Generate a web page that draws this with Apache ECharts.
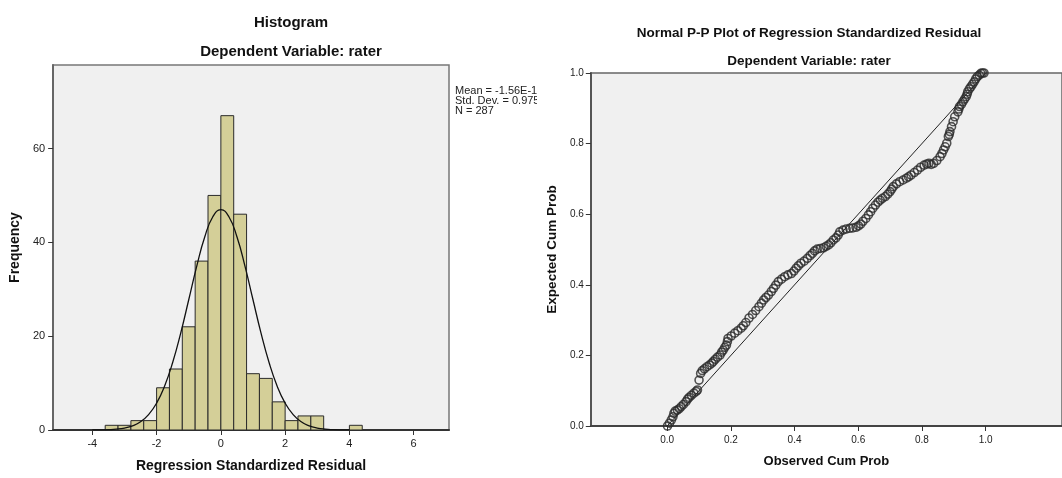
<!DOCTYPE html>
<html>
<head>
<meta charset="utf-8">
<script src="https://cdn.jsdelivr.net/npm/echarts@6/dist/echarts.min.js"></script>
<style>
  html, body { margin: 0; padding: 0; background: #fff; }
  #histChart { position: absolute; left: 0; top: 0; width: 537px; height: 478px; }
  #ppChart { position: absolute; left: 537px; top: 0; width: 525px; height: 478px; }
</style>
</head>
<body>
<div id="histChart"></div>
<div id="ppChart"></div>
<script>
// histogram bins (start of each 0.4 wide bin) and counts
const binStarts = [-3.6, -3.2, -2.8, -2.4, -2.0, -1.6, -1.2, -0.8, -0.4, 0.0, 0.4, 0.8, 1.2, 1.6, 2.0, 2.4, 2.8, 4.0];
const binCounts = [1, 1, 2, 2, 9, 13, 22, 36, 50, 67, 46, 12, 11, 6, 2, 3, 3, 1];
const binWidth = 0.4;
const histXTicks = [-4, -2, 0, 2, 4, 6];
const histYTicks = [0, 20, 40, 60];

// normal curve
const curveX = [-4, -3.75, -3.5, -3.25, -3, -2.75, -2.5, -2.25, -2, -1.75, -1.5, -1.25, -1, -0.75, -0.5, -0.25, 0,
  0.25, 0.5, 0.75, 1, 1.25, 1.5, 1.75, 2, 2.25, 2.5, 2.75, 3, 3.25, 3.5, 3.75, 4];
const curveY = [0.01, 0.03, 0.08, 0.18, 0.41, 0.88, 1.76, 3.28, 5.73, 9.38, 14.39, 20.65, 27.76, 34.94, 41.18, 45.45, 46.97,
  45.45, 41.18, 34.94, 27.76, 20.65, 14.39, 9.38, 5.73, 3.28, 1.76, 0.88, 0.41, 0.18, 0.08, 0.03, 0.01];

const statLines = ['Mean = -1.56E-16', 'Std. Dev. = 0.975', 'N = 287'];

// P-P plot points (observed cum prob, expected cum prob)
const ppObserved = [
  0.001, 0.007, 0.013, 0.018, 0.021, 0.025, 0.032, 0.038, 0.044, 0.051, 0.059, 0.064, 0.069, 0.076, 0.084, 0.091,
  0.095, 0.100, 0.105, 0.110, 0.117, 0.125, 0.133, 0.140, 0.145, 0.151, 0.158, 0.166, 0.171, 0.176, 0.181, 0.186,
  0.189, 0.191, 0.201, 0.212, 0.222, 0.232, 0.239, 0.247,
  0.257, 0.268, 0.278, 0.288, 0.296, 0.303, 0.310, 0.318, 0.327, 0.334, 0.341, 0.349, 0.359, 0.369, 0.379, 0.390,
  0.398, 0.405, 0.412, 0.420, 0.430, 0.440, 0.449, 0.456, 0.463, 0.471, 0.481, 0.491, 0.499, 0.507, 0.514, 0.522,
  0.530, 0.537,
  0.542, 0.552, 0.562, 0.573, 0.583, 0.593, 0.601, 0.608, 0.615, 0.624, 0.632, 0.639, 0.646, 0.654, 0.662, 0.669,
  0.676, 0.685, 0.693, 0.700, 0.705, 0.710, 0.720, 0.730, 0.741, 0.751, 0.758, 0.766, 0.776, 0.786, 0.796, 0.807,
  0.815, 0.822,
  0.829, 0.837, 0.847, 0.857, 0.863, 0.868, 0.873, 0.878, 0.883, 0.886, 0.888, 0.893, 0.898, 0.903, 0.913, 0.916,
  0.918, 0.924, 0.929, 0.934, 0.939, 0.942, 0.944, 0.949, 0.954, 0.959, 0.964, 0.969, 0.974, 0.980, 0.985, 0.990,
  0.995];
const ppExpected = [
  0.000, 0.008, 0.017, 0.026, 0.036, 0.042, 0.045, 0.049, 0.055, 0.061, 0.069, 0.076, 0.081, 0.087, 0.093, 0.098,
  0.102, 0.130, 0.149, 0.157, 0.162, 0.168, 0.173, 0.178, 0.183, 0.189, 0.195, 0.201, 0.209, 0.215, 0.223, 0.229,
  0.239, 0.248, 0.255, 0.263, 0.270, 0.277, 0.284, 0.293,
  0.306, 0.316, 0.327, 0.338, 0.348, 0.357, 0.364, 0.371, 0.381, 0.390, 0.399, 0.409, 0.416, 0.423, 0.428, 0.432,
  0.439, 0.447, 0.454, 0.461, 0.467, 0.475, 0.483, 0.489, 0.496, 0.501, 0.503, 0.505, 0.509, 0.513, 0.519, 0.527,
  0.533, 0.541,
  0.550, 0.555, 0.558, 0.560, 0.561, 0.563, 0.567, 0.572, 0.580, 0.588, 0.598, 0.607, 0.617, 0.626, 0.634, 0.640,
  0.645, 0.650, 0.657, 0.664, 0.671, 0.678, 0.686, 0.692, 0.697, 0.702, 0.706, 0.711, 0.718, 0.725, 0.733, 0.739,
  0.742, 0.744,
  0.741, 0.744, 0.752, 0.763, 0.772, 0.782, 0.791, 0.801, 0.820, 0.826, 0.834, 0.848, 0.862, 0.876, 0.890, 0.898,
  0.905, 0.911, 0.919, 0.926, 0.933, 0.940, 0.947, 0.955, 0.961, 0.968, 0.975, 0.983, 0.990, 0.994, 0.999, 1.000,
  1.000];
const ppTicks = [0, 0.2, 0.4, 0.6, 0.8, 1.0];

const FONT = '"Liberation Sans", Arial, sans-serif';

const histBars = binStarts.map((s, i) => [s, s + binWidth, binCounts[i]]);

const histChart = echarts.init(document.getElementById('histChart'));
histChart.setOption({
  animation: false,
  textStyle: { fontFamily: FONT },
  graphic: [
    { type: 'text', x: 291, y: 23, style: { text: 'Histogram', fontFamily: FONT, fontSize: 15, fontWeight: 'bold', fill: '#111', align: 'center', verticalAlign: 'middle' } },
    { type: 'text', x: 291, y: 52, style: { text: 'Dependent Variable: rater', fontFamily: FONT, fontSize: 15, fontWeight: 'bold', fill: '#111', align: 'center', verticalAlign: 'middle' } },
    ...statLines.map((t, i) => ({ type: 'text', x: 455, y: 91 + i * 10, style: { text: t, fontFamily: FONT, fontSize: 11, fill: '#222', align: 'left', verticalAlign: 'middle' } }))
  ],
  grid: { left: 51, top: 65, width: 398, height: 369, show: true, backgroundColor: '#f0f0f0', borderColor: '#777', borderWidth: 1.5 },
  xAxis: {
    type: 'value', min: -5.22, max: 7.1,
    name: 'Regression Standardized Residual', nameLocation: 'middle', nameGap: 29,
    nameTextStyle: { fontSize: 14, fontWeight: 'bold', color: '#111', fontFamily: FONT },
    splitLine: { show: false },
    axisLine: { onZero: false, lineStyle: { color: '#333', width: 2 } },
    axisTick: { show: true, length: 5, customValues: histXTicks, lineStyle: { color: '#333' } },
    axisLabel: { customValues: histXTicks, margin: 8, fontSize: 11, color: '#222' }
  },
  yAxis: {
    type: 'value', min: 0, max: 77.8,
    name: 'Frequency', nameLocation: 'middle', nameGap: 26,
    nameTextStyle: { fontSize: 14, fontWeight: 'bold', color: '#111', fontFamily: FONT },
    splitLine: { show: false },
    axisLine: { show: true, onZero: false, lineStyle: { color: '#666', width: 2 } },
    axisTick: { show: true, length: 5, customValues: histYTicks, lineStyle: { color: '#333' } },
    axisLabel: { customValues: histYTicks, margin: 8, fontSize: 11, color: '#222' }
  },
  series: [
    {
      type: 'custom',
      data: histBars,
      encode: { x: [0, 1], y: 2 },
      renderItem: (params, api) => {
        const p0 = api.coord([api.value(0), api.value(2)]);
        const p1 = api.coord([api.value(1), 0]);
        return {
          type: 'rect',
          shape: { x: p0[0], y: p0[1], width: p1[0] - p0[0], height: p1[1] - p0[1] },
          style: { fill: '#d4cf98', stroke: '#2b2b2b', lineWidth: 1 }
        };
      }
    },
    {
      type: 'line',
      data: curveX.map((x, i) => [x, curveY[i]]),
      smooth: true, showSymbol: false, symbol: 'none',
      lineStyle: { color: '#111', width: 1.3 },
      z: 5
    }
  ]
});

const ppChart = echarts.init(document.getElementById('ppChart'));
ppChart.setOption({
  animation: false,
  textStyle: { fontFamily: FONT },
  graphic: [
    { type: 'text', x: 272, y: 33, style: { text: 'Normal P-P Plot of Regression Standardized Residual', fontFamily: FONT, fontSize: 13.5, fontWeight: 'bold', fill: '#111', align: 'center', verticalAlign: 'middle' } },
    { type: 'text', x: 272, y: 61, style: { text: 'Dependent Variable: rater', fontFamily: FONT, fontSize: 13.5, fontWeight: 'bold', fill: '#111', align: 'center', verticalAlign: 'middle' } }
  ],
  grid: { left: 53, top: 73, width: 485, height: 353, show: true, backgroundColor: '#f0f0f0', borderColor: '#666', borderWidth: 1.5 },
  xAxis: {
    type: 'value', min: -0.24, max: 1.24,
    name: 'Observed Cum Prob', nameLocation: 'middle', nameGap: 29,
    nameTextStyle: { fontSize: 13, fontWeight: 'bold', color: '#111', fontFamily: FONT },
    splitLine: { show: false },
    axisLine: { onZero: false, lineStyle: { color: '#444', width: 2 } },
    axisTick: { show: true, length: 5, customValues: ppTicks, lineStyle: { color: '#333' } },
    axisLabel: { customValues: ppTicks, margin: 9, fontSize: 10, color: '#222', formatter: v => v.toFixed(1) }
  },
  yAxis: {
    type: 'value', min: 0, max: 1,
    name: 'Expected Cum Prob', nameLocation: 'middle', nameGap: 26,
    nameTextStyle: { fontSize: 13.5, fontWeight: 'bold', color: '#111', fontFamily: FONT },
    splitLine: { show: false },
    axisLine: { show: true, onZero: false, lineStyle: { color: '#555', width: 2 } },
    axisTick: { show: true, length: 5, customValues: ppTicks, lineStyle: { color: '#333' } },
    axisLabel: { customValues: ppTicks, margin: 7, fontSize: 10, color: '#222', formatter: v => v.toFixed(1) }
  },
  series: [
    {
      type: 'line',
      data: [[0, 0], [1, 1]],
      symbol: 'none',
      lineStyle: { color: '#222', width: 1 },
      z: 2
    },
    {
      type: 'scatter',
      data: ppObserved.map((x, i) => [x, ppExpected[i]]),
      symbol: 'circle', symbolSize: 8,
      itemStyle: { color: 'rgba(0,0,0,0)', borderColor: '#2a2a2a', borderWidth: 1.6 },
      z: 3
    }
  ]
});
</script>
</body>
</html>
